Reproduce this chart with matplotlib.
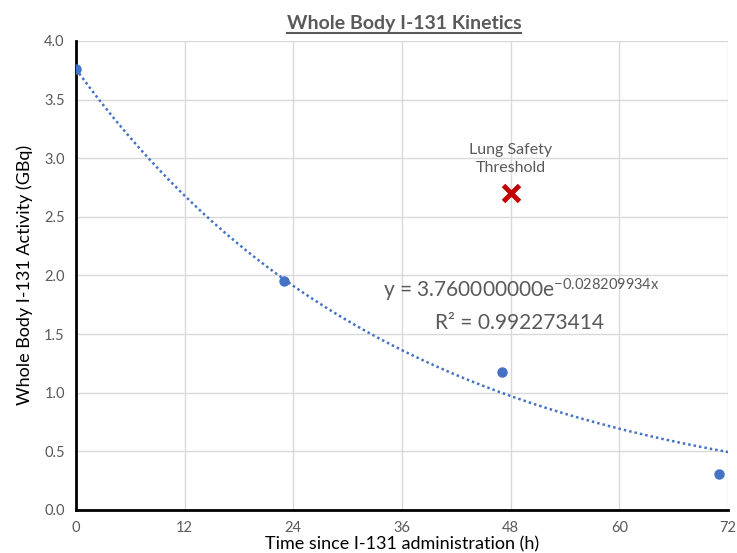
import numpy as np
import matplotlib.pyplot as plt
from matplotlib.lines import Line2D

plt.rcParams['font.family'] = ['Lato', 'DejaVu Sans']
plt.rcParams['mathtext.default'] = 'regular'

# measured whole body activity
time_h = [0, 23, 47, 71]
activity_gbq = [3.76, 1.95, 1.18, 0.31]

# exponential trendline
fit_a = 3.76
fit_k = 0.028209934
fit_r2 = 0.992273414

# lung safety threshold marker
threshold_t = [48]
threshold_gbq = [2.70]

GREY = '#595959'
BLUE = '#4472c4'

fig = plt.figure(figsize=(7.37, 5.53), dpi=100)
ax = fig.add_axes([0.103, 0.078, 0.885, 0.848])

t_fit = np.linspace(0, 72, 300)
ax.plot(t_fit, fit_a * np.exp(-fit_k * t_fit), color=BLUE, linestyle=(0, (1, 1.2)),
        linewidth=1.8, zorder=2)
ax.plot(time_h, activity_gbq, 'o', color=BLUE, markersize=6.5, zorder=3)
ax.plot(threshold_t, threshold_gbq, 'x', color='#c00000', markersize=12,
        markeredgewidth=3.5, zorder=3)

ax.text(48, 2.86, 'Lung Safety\nThreshold', ha='center', va='bottom',
        fontsize=11.5, color=GREY, linespacing=1.3)
ax.text(49.2, 1.87, r'y = 3.760000000e$^{-0.028209934x}$', ha='center', va='center',
        fontsize=15, color=GREY)
ax.text(49.0, 1.59, 'R² = {:.9f}'.format(fit_r2), ha='center', va='center',
        fontsize=15, color=GREY)

ax.set_xlim(0, 72)
ax.set_ylim(0, 4.0)
ax.set_xticks(np.arange(0, 73, 12))
ax.set_yticks(np.arange(0, 4.01, 0.5))
ax.set_yticklabels(['{:.1f}'.format(v) for v in np.arange(0, 4.01, 0.5)])
ax.grid(True, color='#d9d9d9', linewidth=1)
ax.set_axisbelow(True)

for side in ['top', 'right']:
    ax.spines[side].set_visible(False)
for side in ['left', 'bottom']:
    ax.spines[side].set_linewidth(2)
    ax.spines[side].set_color('black')
ax.tick_params(length=0, labelsize=10.5, labelcolor=GREY, pad=8)

ax.set_xlabel('Time since I-131 administration (h)', fontsize=13, labelpad=1)
ax.set_ylabel('Whole Body I-131 Activity (GBq)', fontsize=13, labelpad=8)

title = fig.text(0.548, 0.958, 'Whole Body I-131 Kinetics', ha='center', va='center',
                 fontsize=14, fontweight='bold', color=GREY)

# underline the title like the original
fig.canvas.draw()
bb = title.get_window_extent().transformed(fig.transFigure.inverted())
fig.add_artist(Line2D([bb.x0, bb.x1], [bb.y0 - 0.003, bb.y0 - 0.003],
                      transform=fig.transFigure, color=GREY, linewidth=1.5))

fig.savefig('out.png', dpi=100)
